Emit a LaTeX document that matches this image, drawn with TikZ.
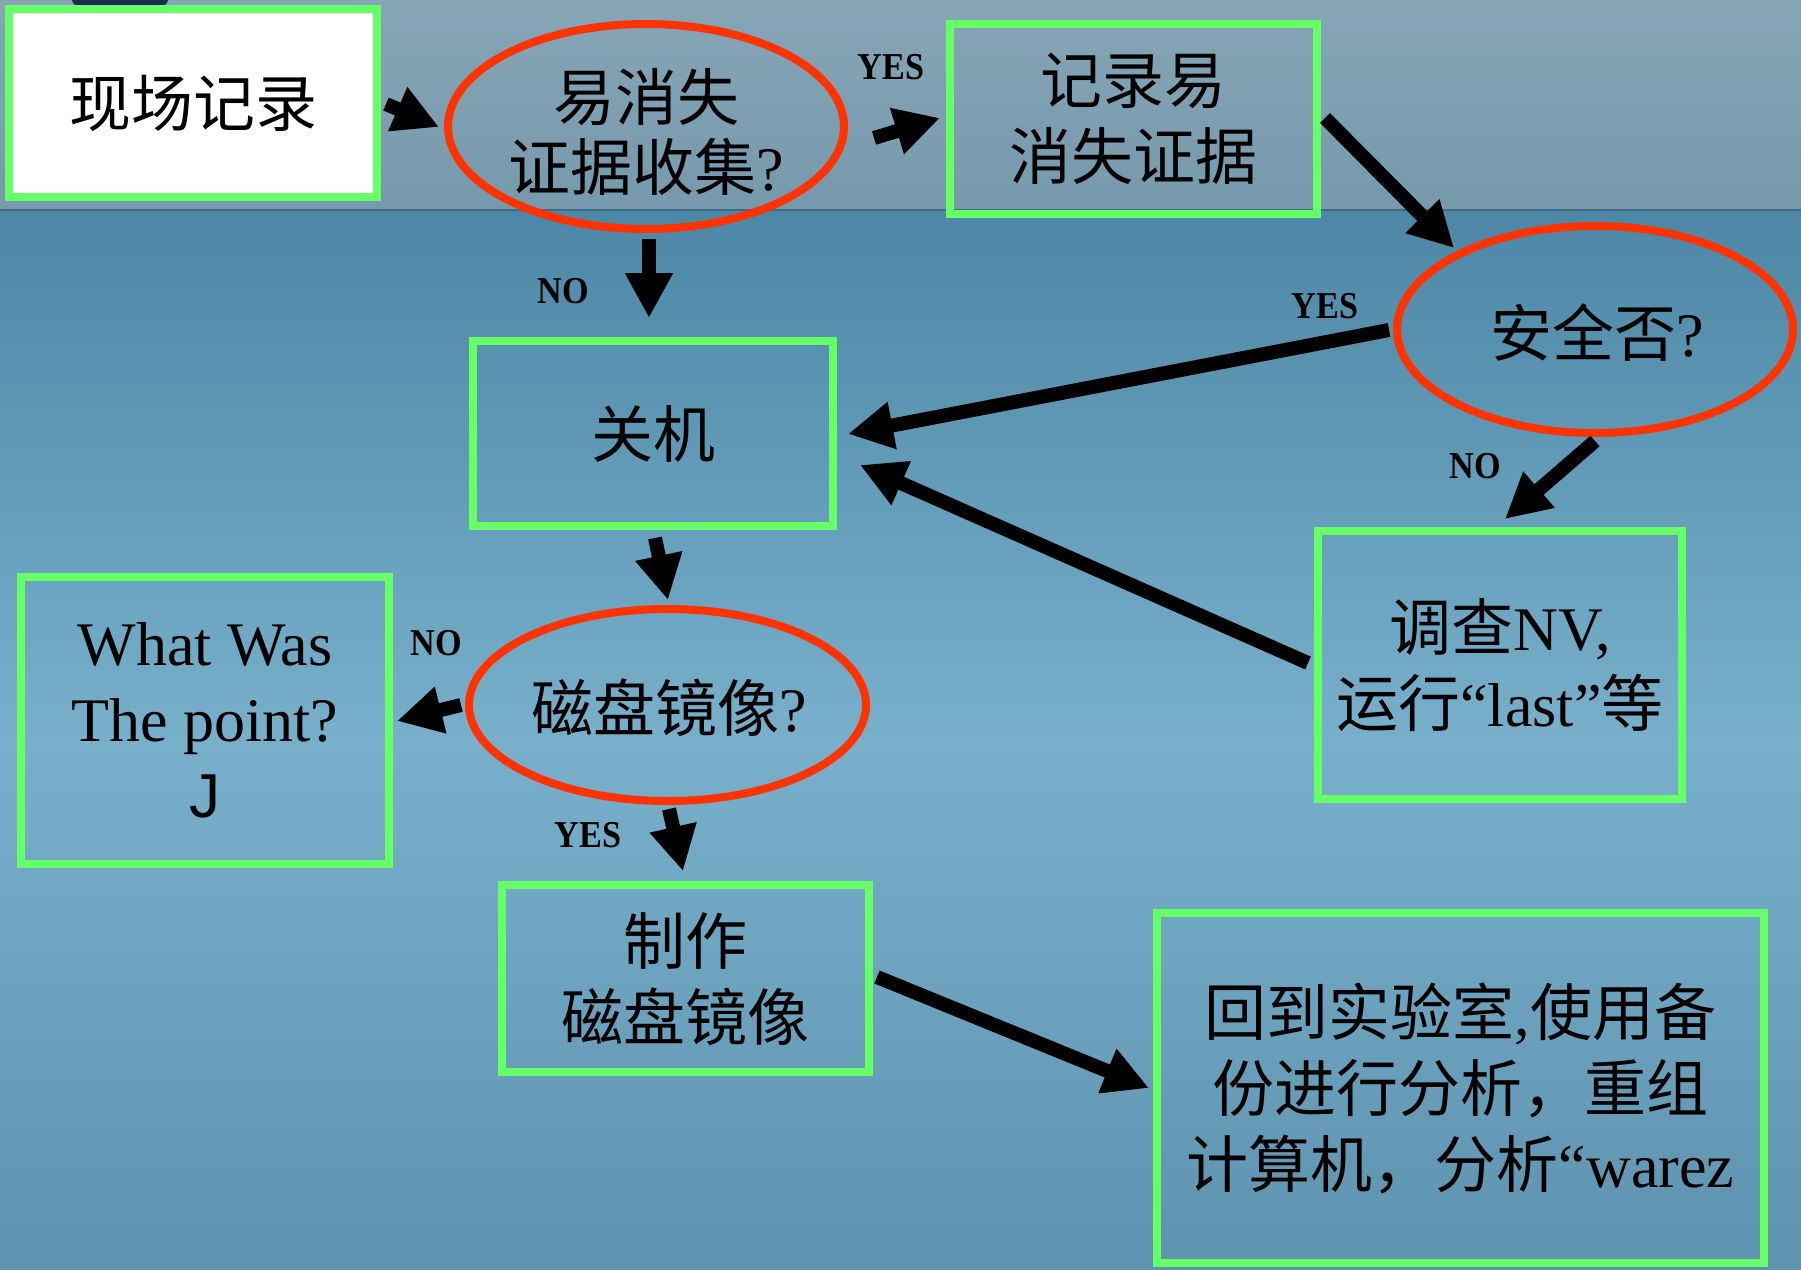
\documentclass[tikz,border=0pt]{standalone}
\usepackage{fontspec}
\setmainfont{Liberation Serif}
\newfontfamily\cjk{Noto Sans CJK SC}
\newfontfamily\lsans{Liberation Sans}
\usetikzlibrary{arrows.meta,calc,shapes.geometric}
\definecolor{boxgreen}{HTML}{66FF66}
\definecolor{ovred}{HTML}{FF3300}
\definecolor{bandtop}{HTML}{86A6B6}
\definecolor{bandbot}{HTML}{7699AC}
\definecolor{lowtop}{HTML}{4C87A5}
\definecolor{lowmid}{HTML}{78B0CB}
\definecolor{lowbot}{HTML}{5E93AF}
\definecolor{logo}{HTML}{1C2C55}
\begin{document}
\begin{tikzpicture}[x=1pt,y=-1pt,
  box/.style={draw=boxgreen,line width=8pt,inner sep=0pt,align=center,
    font=\fontsize{62}{76}\selectfont},
  oval/.style={draw=ovred,line width=8pt,ellipse,inner sep=0pt},
  ovtext/.style={inner sep=0pt,align=center,font=\fontsize{62}{70}\selectfont},
  arr/.style={line width=14pt,black,-{Triangle[length=45pt,width=45pt]}},
  lab/.style={inner sep=0pt,font=\fontsize{38}{38}\selectfont\bfseries,xscale=0.9}]
% background
\useasboundingbox (0,0) rectangle (1801,1269);
\shade[top color=bandtop,bottom color=bandbot] (0,0) rectangle (1801,210);
\shade[top color=lowtop,bottom color=lowbot,middle color=lowmid] (0,210) rectangle (1801,1269);
\draw[line width=2pt,color=lowtop!80!black] (0,210) -- (1801,210);
\fill[logo] (120,0) ellipse [x radius=48, y radius=14];
% nodes
\node[box,fill=white,minimum width=368pt,minimum height=188pt] (A) at (193,103) {{\cjk 现场记录}};
\node[oval,minimum width=396pt,minimum height=205pt] (B) at (646,126.5) {};
\node[ovtext] (Bt) at ($(B.center)+(0,5)$) {{\cjk 易消失}\\{\cjk 证据收集}?};
\node[box,minimum width=367pt,minimum height=190pt] (C) at (1133.5,119) {{\cjk 记录易}\\{\cjk 消失证据}};
\node[oval,minimum width=396pt,minimum height=207pt] (D) at (1595,329.5) {};
\node[ovtext] (Dt) at ($(D.center)+(2,3)$) {{\cjk 安全否}?};
\node[box,minimum width=360pt,minimum height=185pt] (E) at (653,433.5) {{\cjk 关机}};
\node[box,minimum width=364pt,minimum height=268pt] (F) at (1500,665) {{\cjk 调查}NV,\\{\cjk 运行}“last”{\cjk 等}};
\node[oval,minimum width=397pt,minimum height=192pt] (G) at (667.5,705) {};
\node[ovtext] (Gt) at ($(G.center)+(2,3)$) {{\cjk 磁盘镜像}?};
\node[box,minimum width=368pt,minimum height=287pt] (H) at (205,720.5) {What Was\\The point?\\{\lsans J}};
\node[box,minimum width=367pt,minimum height=187pt] (I) at (685.5,978.7) {{\cjk 制作}\\{\cjk 磁盘镜像}};
\node[box,minimum width=607pt,minimum height=350pt] (J) at (1460.5,1088) {{\cjk 回到实验室},{\cjk 使用备}\\{\cjk 份进行分析，重组}\\{\cjk 计算机，分析}“warez};
% labels
\node[lab] (l1) at (891,67) {YES};
\node[lab] (l2) at (563,291) {NO};
\node[lab] (l3) at (1325,306) {YES};
\node[lab] (l4) at (1475,466) {NO};
\node[lab] (l5) at (436,643) {NO};
\node[lab] (l6) at (588,835) {YES};
% connectors
\draw[arr] ($(A.east)+(5,1)$) -- ($(B.west)+(-5,0.5)$);
\draw[arr] ($(B.east)+(26,11.5)$) -- ($(C.west)+(-6,-1)$);
\draw[arr] ($(B.south)+(3,6)$) -- ($(E.north)+(-4,-19)$);
\draw[arr] ($(C.east)+(4,-1)$) -- ($(D.center)+(-141,-81.5)$);
\draw[arr] ($(D.west)+(-4,0.5)$) -- ($(E.east)+(11,0.5)$);
\draw[arr] ($(D.south)+(0,4)$) -- ($(F.north)+(5,-8)$);
\draw[arr] ($(F.west)+(-6,-2)$) -- ($(E.east)+(23,31.5)$);
\draw[arr] ($(E.south)+(2,8)$) -- ($(G.north)+(0.5,-5)$);
\draw[arr] ($(G.west)+(-4,0)$) -- ($(H.east)+(4,0.5)$);
\draw[arr] ($(G.south)+(1.5,4)$) -- ($(I.north)+(-2.5,-10)$);
\draw[arr] ($(I.east)+(4,-1.7)$) -- ($(J.west)+(-4,0)$);
\end{tikzpicture}
\end{document}
